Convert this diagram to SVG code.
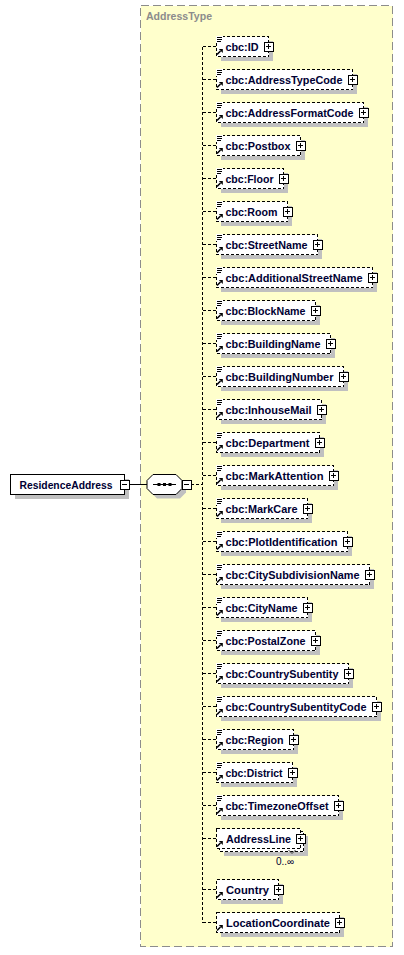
<svg xmlns="http://www.w3.org/2000/svg" xmlns:xlink="http://www.w3.org/1999/xlink" width="404" height="955" viewBox="0 0 404 955">
<style>
.bg{fill:#ffffcc;stroke:#8c8c8c;stroke-dasharray:8 4;shape-rendering:crispEdges}
.lbl{font-family:"Liberation Sans",Arial,sans-serif;font-weight:bold;font-size:11px;fill:#8c8c8c}
.box{fill:#fff;stroke:#000;stroke-dasharray:3 2;shape-rendering:crispEdges}
.sbox{fill:#fff;stroke:#000;shape-rendering:crispEdges}
.shd{fill:#c0c0c0;shape-rendering:crispEdges}
.t{font-family:"Liberation Sans",Arial,sans-serif;font-weight:bold;font-size:11px;fill:#000033}
.occ{font-family:"Liberation Sans",Arial,sans-serif;font-size:10px;fill:#000033}
.con{stroke:#000;stroke-dasharray:3 2;fill:none;shape-rendering:crispEdges}
.solid{stroke:#000;fill:none;shape-rendering:crispEdges}
</style>
<defs>
<g id="plus"><rect x="-4.5" y="-4.5" width="9" height="9" fill="#fff" stroke="#000" shape-rendering="crispEdges"/><path d="M-2.5 0H2.5M0 -2.5V2.5" stroke="#000" shape-rendering="crispEdges"/></g>
<g id="minus"><rect x="-4.5" y="-4.5" width="9" height="9" fill="#fff" stroke="#000" shape-rendering="crispEdges"/><path d="M-2.5 0H2.5" stroke="#000" shape-rendering="crispEdges"/></g>
<g id="doc"><rect x="0" y="0" width="7" height="7" fill="#fff"/><path d="M1 1.5H6M1 3.5H6M1 5.5H5" stroke="#000" shape-rendering="crispEdges"/></g>
<g id="ref"><path d="M1 18.5L4.5 15" stroke="#000" stroke-width="1.6"/><polygon points="2.8,13 6.8,13 6.8,17" fill="#000"/></g>
</defs>

<rect class="bg" x="140.5" y="5.5" width="252" height="941"/>
<text class="lbl" x="146" y="20" textLength="66" lengthAdjust="spacingAndGlyphs">AddressType</text>

<g id="connectors">
<path class="solid" d="M128.5 484.5H147"/>
<path class="con" d="M191 484.5H202.5"/>
<path class="con" d="M202.5 46.5V922.5"/>
<path class="con" d="M202.5 46.5H216.5M202.5 79.5H216.5M202.5 112.5H216.5M202.5 145.5H216.5M202.5 178.5H216.5M202.5 211.5H216.5M202.5 244.5H216.5M202.5 277.5H216.5M202.5 310.5H216.5M202.5 343.5H216.5M202.5 376.5H216.5M202.5 409.5H216.5M202.5 442.5H216.5M202.5 475.5H216.5M202.5 508.5H216.5M202.5 541.5H216.5M202.5 574.5H216.5M202.5 607.5H216.5M202.5 640.5H216.5M202.5 673.5H216.5M202.5 706.5H216.5M202.5 739.5H216.5M202.5 772.5H216.5M202.5 805.5H216.5M202.5 838.5H216.5M202.5 889.5H216.5M202.5 922.5H216.5"/>
</g>

<g id="ResidenceAddress">
<rect class="shd" x="14.5" y="478.5" width="114" height="20"/>
<rect class="sbox" x="10.5" y="474.5" width="114" height="20"/>
<text class="t" x="19.5" y="488.5" textLength="93" lengthAdjust="spacingAndGlyphs">ResidenceAddress</text>
<use href="#minus" x="124.5" y="484.5"/>
</g>

<g id="sequence">
<polygon fill="#c0c0c0" points="157,478.5 180,478.5 186,484.5 186,492.5 180,498.5 157,498.5 151,492.5 151,484.5"/>
<polygon fill="#fff" stroke="#000" points="153,474.5 176,474.5 182,480.5 182,488.5 176,494.5 153,494.5 147,488.5 147,480.5"/>
<path d="M153 484.5H176" stroke="#000"/>
<rect x="157.5" y="483" width="3" height="3" fill="#000"/>
<rect x="163" y="483" width="3" height="3" fill="#000"/>
<rect x="168.5" y="483" width="3" height="3" fill="#000"/>
<use href="#minus" x="186.5" y="484.5"/>
</g>

<g id="cbc_ID"><rect class="shd" x="220.5" y="40.5" width="52" height="20"/><rect class="box" x="216.5" y="36.5" width="52" height="20"/><use href="#doc" x="216" y="36"/><use href="#ref" x="216" y="36"/><text class="t" x="225.5" y="50.5" textLength="33" lengthAdjust="spacingAndGlyphs">cbc:ID</text><use href="#plus" x="268.5" y="46.5"/></g>
<g id="cbc_AddressTypeCode"><rect class="shd" x="220.5" y="73.5" width="136" height="20"/><rect class="box" x="216.5" y="69.5" width="136" height="20"/><use href="#doc" x="216" y="69"/><use href="#ref" x="216" y="69"/><text class="t" x="225.5" y="83.5" textLength="117" lengthAdjust="spacingAndGlyphs">cbc:AddressTypeCode</text><use href="#plus" x="352.5" y="79.5"/></g>
<g id="cbc_AddressFormatCode"><rect class="shd" x="220.5" y="106.5" width="147" height="20"/><rect class="box" x="216.5" y="102.5" width="147" height="20"/><use href="#doc" x="216" y="102"/><use href="#ref" x="216" y="102"/><text class="t" x="225.5" y="116.5" textLength="128" lengthAdjust="spacingAndGlyphs">cbc:AddressFormatCode</text><use href="#plus" x="363.5" y="112.5"/></g>
<g id="cbc_Postbox"><rect class="shd" x="220.5" y="139.5" width="84" height="20"/><rect class="box" x="216.5" y="135.5" width="84" height="20"/><use href="#doc" x="216" y="135"/><use href="#ref" x="216" y="135"/><text class="t" x="225.5" y="149.5" textLength="65" lengthAdjust="spacingAndGlyphs">cbc:Postbox</text><use href="#plus" x="300.5" y="145.5"/></g>
<g id="cbc_Floor"><rect class="shd" x="220.5" y="172.5" width="67" height="20"/><rect class="box" x="216.5" y="168.5" width="67" height="20"/><use href="#doc" x="216" y="168"/><use href="#ref" x="216" y="168"/><text class="t" x="225.5" y="182.5" textLength="48" lengthAdjust="spacingAndGlyphs">cbc:Floor</text><use href="#plus" x="283.5" y="178.5"/></g>
<g id="cbc_Room"><rect class="shd" x="220.5" y="205.5" width="71" height="20"/><rect class="box" x="216.5" y="201.5" width="71" height="20"/><use href="#doc" x="216" y="201"/><use href="#ref" x="216" y="201"/><text class="t" x="225.5" y="215.5" textLength="52" lengthAdjust="spacingAndGlyphs">cbc:Room</text><use href="#plus" x="287.5" y="211.5"/></g>
<g id="cbc_StreetName"><rect class="shd" x="220.5" y="238.5" width="101" height="20"/><rect class="box" x="216.5" y="234.5" width="101" height="20"/><use href="#doc" x="216" y="234"/><use href="#ref" x="216" y="234"/><text class="t" x="225.5" y="248.5" textLength="82" lengthAdjust="spacingAndGlyphs">cbc:StreetName</text><use href="#plus" x="317.5" y="244.5"/></g>
<g id="cbc_AdditionalStreetName"><rect class="shd" x="220.5" y="271.5" width="156" height="20"/><rect class="box" x="216.5" y="267.5" width="156" height="20"/><use href="#doc" x="216" y="267"/><use href="#ref" x="216" y="267"/><text class="t" x="225.5" y="281.5" textLength="137" lengthAdjust="spacingAndGlyphs">cbc:AdditionalStreetName</text><use href="#plus" x="372.5" y="277.5"/></g>
<g id="cbc_BlockName"><rect class="shd" x="220.5" y="304.5" width="99" height="20"/><rect class="box" x="216.5" y="300.5" width="99" height="20"/><use href="#doc" x="216" y="300"/><use href="#ref" x="216" y="300"/><text class="t" x="225.5" y="314.5" textLength="80" lengthAdjust="spacingAndGlyphs">cbc:BlockName</text><use href="#plus" x="315.5" y="310.5"/></g>
<g id="cbc_BuildingName"><rect class="shd" x="220.5" y="337.5" width="114" height="20"/><rect class="box" x="216.5" y="333.5" width="114" height="20"/><use href="#doc" x="216" y="333"/><use href="#ref" x="216" y="333"/><text class="t" x="225.5" y="347.5" textLength="95" lengthAdjust="spacingAndGlyphs">cbc:BuildingName</text><use href="#plus" x="330.5" y="343.5"/></g>
<g id="cbc_BuildingNumber"><rect class="shd" x="220.5" y="370.5" width="127" height="20"/><rect class="box" x="216.5" y="366.5" width="127" height="20"/><use href="#doc" x="216" y="366"/><use href="#ref" x="216" y="366"/><text class="t" x="225.5" y="380.5" textLength="108" lengthAdjust="spacingAndGlyphs">cbc:BuildingNumber</text><use href="#plus" x="343.5" y="376.5"/></g>
<g id="cbc_InhouseMail"><rect class="shd" x="220.5" y="403.5" width="105" height="20"/><rect class="box" x="216.5" y="399.5" width="105" height="20"/><use href="#doc" x="216" y="399"/><use href="#ref" x="216" y="399"/><text class="t" x="225.5" y="413.5" textLength="86" lengthAdjust="spacingAndGlyphs">cbc:InhouseMail</text><use href="#plus" x="321.5" y="409.5"/></g>
<g id="cbc_Department"><rect class="shd" x="220.5" y="436.5" width="103" height="20"/><rect class="box" x="216.5" y="432.5" width="103" height="20"/><use href="#doc" x="216" y="432"/><use href="#ref" x="216" y="432"/><text class="t" x="225.5" y="446.5" textLength="84" lengthAdjust="spacingAndGlyphs">cbc:Department</text><use href="#plus" x="319.5" y="442.5"/></g>
<g id="cbc_MarkAttention"><rect class="shd" x="220.5" y="469.5" width="117" height="20"/><rect class="box" x="216.5" y="465.5" width="117" height="20"/><use href="#doc" x="216" y="465"/><use href="#ref" x="216" y="465"/><text class="t" x="225.5" y="479.5" textLength="98" lengthAdjust="spacingAndGlyphs">cbc:MarkAttention</text><use href="#plus" x="333.5" y="475.5"/></g>
<g id="cbc_MarkCare"><rect class="shd" x="220.5" y="502.5" width="91" height="20"/><rect class="box" x="216.5" y="498.5" width="91" height="20"/><use href="#doc" x="216" y="498"/><use href="#ref" x="216" y="498"/><text class="t" x="225.5" y="512.5" textLength="72" lengthAdjust="spacingAndGlyphs">cbc:MarkCare</text><use href="#plus" x="307.5" y="508.5"/></g>
<g id="cbc_PlotIdentification"><rect class="shd" x="220.5" y="535.5" width="131" height="20"/><rect class="box" x="216.5" y="531.5" width="131" height="20"/><use href="#doc" x="216" y="531"/><use href="#ref" x="216" y="531"/><text class="t" x="225.5" y="545.5" textLength="112" lengthAdjust="spacingAndGlyphs">cbc:PlotIdentification</text><use href="#plus" x="347.5" y="541.5"/></g>
<g id="cbc_CitySubdivisionName"><rect class="shd" x="220.5" y="568.5" width="153" height="20"/><rect class="box" x="216.5" y="564.5" width="153" height="20"/><use href="#doc" x="216" y="564"/><use href="#ref" x="216" y="564"/><text class="t" x="225.5" y="578.5" textLength="134" lengthAdjust="spacingAndGlyphs">cbc:CitySubdivisionName</text><use href="#plus" x="369.5" y="574.5"/></g>
<g id="cbc_CityName"><rect class="shd" x="220.5" y="601.5" width="91" height="20"/><rect class="box" x="216.5" y="597.5" width="91" height="20"/><use href="#doc" x="216" y="597"/><use href="#ref" x="216" y="597"/><text class="t" x="225.5" y="611.5" textLength="72" lengthAdjust="spacingAndGlyphs">cbc:CityName</text><use href="#plus" x="307.5" y="607.5"/></g>
<g id="cbc_PostalZone"><rect class="shd" x="220.5" y="634.5" width="99" height="20"/><rect class="box" x="216.5" y="630.5" width="99" height="20"/><use href="#doc" x="216" y="630"/><use href="#ref" x="216" y="630"/><text class="t" x="225.5" y="644.5" textLength="80" lengthAdjust="spacingAndGlyphs">cbc:PostalZone</text><use href="#plus" x="315.5" y="640.5"/></g>
<g id="cbc_CountrySubentity"><rect class="shd" x="220.5" y="667.5" width="132" height="20"/><rect class="box" x="216.5" y="663.5" width="132" height="20"/><use href="#doc" x="216" y="663"/><use href="#ref" x="216" y="663"/><text class="t" x="225.5" y="677.5" textLength="113" lengthAdjust="spacingAndGlyphs">cbc:CountrySubentity</text><use href="#plus" x="348.5" y="673.5"/></g>
<g id="cbc_CountrySubentityCode"><rect class="shd" x="220.5" y="700.5" width="160" height="20"/><rect class="box" x="216.5" y="696.5" width="160" height="20"/><use href="#doc" x="216" y="696"/><use href="#ref" x="216" y="696"/><text class="t" x="225.5" y="710.5" textLength="141" lengthAdjust="spacingAndGlyphs">cbc:CountrySubentityCode</text><use href="#plus" x="376.5" y="706.5"/></g>
<g id="cbc_Region"><rect class="shd" x="220.5" y="733.5" width="77" height="20"/><rect class="box" x="216.5" y="729.5" width="77" height="20"/><use href="#doc" x="216" y="729"/><use href="#ref" x="216" y="729"/><text class="t" x="225.5" y="743.5" textLength="58" lengthAdjust="spacingAndGlyphs">cbc:Region</text><use href="#plus" x="293.5" y="739.5"/></g>
<g id="cbc_District"><rect class="shd" x="220.5" y="766.5" width="76" height="20"/><rect class="box" x="216.5" y="762.5" width="76" height="20"/><use href="#doc" x="216" y="762"/><use href="#ref" x="216" y="762"/><text class="t" x="225.5" y="776.5" textLength="57" lengthAdjust="spacingAndGlyphs">cbc:District</text><use href="#plus" x="292.5" y="772.5"/></g>
<g id="cbc_TimezoneOffset"><rect class="shd" x="220.5" y="799.5" width="122" height="20"/><rect class="box" x="216.5" y="795.5" width="122" height="20"/><use href="#doc" x="216" y="795"/><use href="#ref" x="216" y="795"/><text class="t" x="225.5" y="809.5" textLength="103" lengthAdjust="spacingAndGlyphs">cbc:TimezoneOffset</text><use href="#plus" x="338.5" y="805.5"/></g>
<g id="AddressLine"><rect class="shd" x="223.5" y="835.5" width="84" height="20"/><rect class="box" x="219.5" y="831.5" width="84" height="20"/><rect class="box" x="216.5" y="828.5" width="84" height="20"/><use href="#ref" x="216" y="828"/><text class="t" x="226" y="842.5" textLength="65" lengthAdjust="spacingAndGlyphs">AddressLine</text><use href="#plus" x="300.5" y="838.5"/><path d="M288.5 850L292 853.5L295.5 850" fill="none" stroke="#404040"/><text class="occ" x="285" y="865" text-anchor="middle">0..∞</text></g>
<g id="Country"><rect class="shd" x="220.5" y="883.5" width="62" height="20"/><rect class="box" x="216.5" y="879.5" width="62" height="20"/><use href="#ref" x="216" y="879"/><text class="t" x="226" y="893.5" textLength="43" lengthAdjust="spacingAndGlyphs">Country</text><use href="#plus" x="278.5" y="889.5"/></g>
<g id="LocationCoordinate"><rect class="shd" x="220.5" y="916.5" width="123" height="20"/><rect class="box" x="216.5" y="912.5" width="123" height="20"/><use href="#ref" x="216" y="912"/><text class="t" x="226" y="926.5" textLength="104" lengthAdjust="spacingAndGlyphs">LocationCoordinate</text><use href="#plus" x="339.5" y="922.5"/></g>
</svg>
